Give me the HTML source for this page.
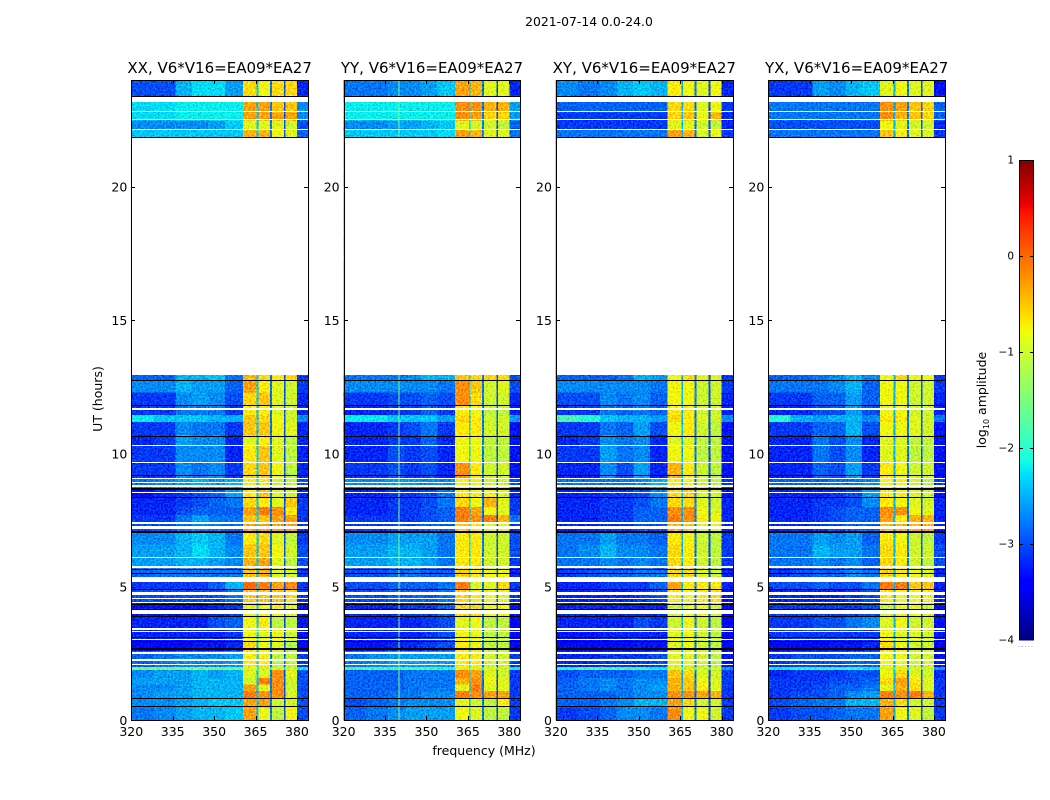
<!DOCTYPE html>
<html>
<head>
<meta charset="utf-8">
<title>2021-07-14 0.0-24.0</title>
<style>
html,body{margin:0;padding:0;background:#fff;width:1050px;height:800px;overflow:hidden}
svg{display:block;font-family:"DejaVu Sans","Liberation Sans",sans-serif;fill:#000}
</style>
</head>
<body>
<svg id="fig" xmlns="http://www.w3.org/2000/svg" width="1050" height="800" viewBox="0 0 1050 800">
<defs>
<filter id="speckle" x="0" y="0" width="100%" height="100%" color-interpolation-filters="sRGB">
<feTurbulence type="fractalNoise" baseFrequency="0.6" numOctaves="1" seed="7" result="n"/>
<feColorMatrix in="n" type="matrix" values="0 0 0 0 0.5  0 1 0 0 0  0 1 0 0 0  0 0 0 0 1" result="g"/>
<feComposite in="SourceGraphic" in2="g" operator="arithmetic" k1="0" k2="1" k3="0.9" k4="-0.45"/>
</filter>
</defs>
<text x="589" y="26" font-size="12.4" text-anchor="middle">2021-07-14 0.0-24.0</text>
<text x="484" y="755" font-size="12.5" text-anchor="middle">frequency (MHz)</text>
<text transform="translate(102 399) rotate(-90)" font-size="12.5" text-anchor="middle">UT (hours)</text>
<g id="panels"></g>
<g id="colorbar"></g>
<text transform="translate(986 400) rotate(-90)" font-size="12.5" text-anchor="middle">log<tspan font-size="8" dy="3">10</tspan><tspan dy="-3"> amplitude</tspan></text>
<text x="1026" y="647" font-size="7" fill="#777" text-anchor="middle" letter-spacing="1">.....</text>
</svg>
<script>
// ---- chart data (levels are log10 amplitude x 10) ----
const panelNames = ["XX, V6*V16=EA09*EA27","YY, V6*V16=EA09*EA27","XY, V6*V16=EA09*EA27","YX, V6*V16=EA09*EA27"];
const freqEdges = [320,328,336,342,348,354,360.4,365.4,366,370.2,370.9,375.3,375.9,380,384];
const rowEdges = [0,.48,.8,1.1,1.35,1.6,1.9,2,2.6,3,3.45,3.9,4.4,4.9,5.2,5.7,6.1,6.6,7.05,7.4,7.7,8,8.35,8.7,9.1,9.7,10.3,10.7,11.2,11.45,11.8,12.3,12.75,12.94,21.83,22.15,22.5,22.8,23.2,24];
const xxLevels = [
[-28,-27,-26,-25,-25,-24,-3,-24,-8,-28,-11,-30,-8,-30],
[-27,-27,-26,-25,-24,-24,-3,-24,-3,-28,-10,-30,-10,-30],
[-27,-26,-26,-25,-25,-25,-1,-24,-2,-28,-2,-30,-9,-30],
[-27,-27,-26,-25,-25,-25,-3,-24,-9,-28,-2,-30,-10,-30],
[-26,-26,-26,-25,-25,-25,-10,-24,-1,-28,-2,-30,-10,-30],
[-27,-26,-26,-25,-26,-25,-9,-24,-9,-28,-2,-30,-9,-30],
[-15,-15,-15,-15,-15,-16,-10,-20,-10,-20,-10,-22,-10,-22],
[-29,-28,-27,-27,-27,-26,-7,-24,-7,-28,-11,-30,-11,-31],
[-34,-34,-34,-33,-33,-32,-6,-24,-8,-28,-9,-30,-12,-34],
[-32,-32,-32,-32,-32,-31,-8,-24,-9,-28,-8,-30,-10,-33],
[-32,-32,-32,-32,-30,-29,-8,-24,-7,-28,-11,-30,-11,-33],
[-33,-33,-33,-33,-32,-31,-9,-24,-8,-28,-7,-30,-9,-33],
[-30,-30,-30,-30,-30,-28,-5,-24,-5,-28,-5,-30,-6,-31],
[-31,-31,-31,-31,-29,-25,0,-24,-1,-28,-3,-30,-2,-31],
[-29,-28,-28,-28,-28,-28,-5,-24,-4,-28,-9,-30,-10,-31],
[-26,-26,-25,-25,-26,-27,-4,-24,-3,-28,-9,-30,-11,-30],
[-26,-26,-25,-23,-25,-27,-5,-24,-5,-28,-8,-30,-10,-30],
[-27,-27,-25,-24,-25,-28,-7,-24,-6,-28,-9,-30,-11,-31],
[-30,-30,-28,-27,-28,-29,-3,-24,-3,-28,-3,-30,-3,-31],
[-31,-31,-28,-26,-28,-28,-5,-24,-5,-28,-3,-30,-3,-31],
[-32,-32,-30,-29,-29,-29,-3,-24,-1,-28,-2,-30,-7,-31],
[-32,-32,-31,-30,-29,-28,-6,-24,-7,-28,-9,-30,-5,-31],
[-33,-32,-31,-30,-29,-26,-7,-24,-5,-28,-9,-30,-10,-32],
[-28,-27,-26,-25,-26,-25,-8,-24,-7,-28,-10,-30,-11,-30],
[-31,-31,-27,-28,-27,-31,-6,-24,-5,-28,-8,-30,-11,-32],
[-31,-31,-27,-27,-27,-32,-7,-24,-5,-28,-9,-30,-11,-32],
[-32,-31,-26,-27,-27,-32,-9,-24,-7,-28,-9,-30,-11,-32],
[-31,-31,-27,-28,-28,-31,-5,-24,-5,-28,-8,-30,-9,-32],
[-22,-24,-24,-24,-25,-25,-5,-24,-6,-28,-8,-30,-10,-27],
[-31,-31,-28,-28,-28,-31,-7,-24,-7,-28,-9,-30,-10,-32],
[-31,-31,-27,-26,-27,-30,-6,-24,-5,-28,-9,-30,-10,-32],
[-27,-27,-25,-26,-26,-29,-3,-24,-7,-28,-9,-30,-10,-31],
[-29,-29,-25,-25,-24,-28,-4,-24,-6,-28,-7,-30,-6,-31],
[],
[-24,-24,-24,-24,-24,-24,-4,-24,-4,-28,-8,-30,-9,-29],
[-27,-27,-27,-27,-26,-24,-9,-24,-9,-28,-9,-30,-10,-30],
[-23,-23,-22,-22,-22,-22,-3,-24,-3,-28,-3,-30,-3,-27],
[-23,-23,-22,-22,-22,-22,-3,-24,-3,-28,-5,-30,-5,-27],
[-30,-30,-25,-23,-23,-26,-6,-24,-8,-28,-6,-30,-6,-32]
];
const yyLevels = [
[-29,-28,-27,-26,-26,-26,-8,-23,-9,-28,-11,-30,-11,-31],
[-30,-29,-28,-27,-27,-27,-9,-24,-10,-28,-11,-30,-7,-31],
[-29,-29,-28,-28,-27,-27,-1,-23,-2,-28,-3,-30,-3,-31],
[-29,-29,-29,-28,-28,-28,-9,-23,-1,-28,-9,-30,-9,-31],
[-29,-29,-29,-28,-28,-28,-4,-23,-2,-28,-8,-30,-9,-31],
[-29,-29,-29,-28,-28,-28,-2,-23,-3,-28,-9,-30,-10,-31],
[-18,-18,-18,-18,-18,-20,-10,-20,-10,-20,-10,-22,-10,-22],
[-28,-27,-26,-26,-26,-26,-7,-23,-7,-28,-10,-30,-10,-31],
[-33,-33,-32,-32,-31,-30,-7,-23,-8,-28,-11,-30,-11,-34],
[-32,-32,-32,-32,-31,-30,-8,-23,-8,-28,-11,-30,-11,-34],
[-32,-32,-32,-32,-31,-30,-9,-23,-8,-28,-11,-30,-11,-34],
[-32,-32,-32,-31,-31,-29,-6,-23,-6,-28,-8,-30,-8,-33],
[-30,-30,-29,-29,-29,-28,-6,-23,-7,-28,-8,-30,-9,-31],
[-30,-30,-29,-29,-29,-28,-1,-23,-9,-28,-9,-30,-6,-31],
[-30,-30,-29,-28,-29,-29,-6,-23,-7,-28,-8,-30,-8,-32],
[-26,-26,-25,-25,-26,-28,-7,-23,-7,-28,-10,-30,-10,-31],
[-26,-26,-25,-25,-26,-28,-7,-23,-7,-28,-10,-30,-10,-30],
[-27,-27,-26,-26,-26,-28,-7,-23,-7,-28,-10,-30,-10,-30],
[-31,-31,-30,-30,-29,-29,-5,-24,-7,-28,-9,-30,-9,-31],
[-31,-31,-31,-31,-30,-29,-1,-23,-2,-28,-1,-30,-4,-28],
[-32,-32,-31,-31,-30,-29,-1,-23,-3,-28,-8,-30,-9,-31],
[-32,-32,-31,-31,-30,-28,-6,-23,-8,-28,-4,-30,-9,-31],
[-32,-32,-31,-31,-30,-28,-7,-23,-7,-28,-8,-30,-9,-32],
[-27,-27,-26,-26,-27,-27,-8,-23,-8,-28,-10,-30,-10,-30],
[-31,-31,-30,-31,-30,-32,-2,-23,-7,-28,-10,-30,-10,-33],
[-32,-32,-30,-31,-30,-32,-8,-23,-8,-28,-11,-30,-11,-33],
[-32,-32,-31,-31,-29,-32,-8,-23,-8,-28,-11,-30,-11,-33],
[-32,-32,-31,-30,-28,-31,-7,-23,-7,-28,-10,-30,-10,-33],
[-22,-22,-24,-24,-24,-26,-6,-23,-7,-28,-10,-30,-10,-26],
[-32,-32,-31,-31,-29,-31,-7,-23,-8,-28,-11,-30,-11,-32],
[-31,-31,-30,-30,-29,-30,-2,-23,-6,-28,-10,-30,-10,-32],
[-27,-27,-27,-27,-27,-28,-2,-23,-5,-28,-10,-30,-9,-30],
[-28,-28,-28,-27,-25,-25,-5,-23,-6,-28,-6,-30,-6,-30],
[],
[-24,-24,-24,-24,-24,-23,-3,-23,-4,-28,-9,-30,-9,-28],
[-27,-27,-26,-26,-25,-24,-9,-23,-10,-28,-10,-30,-11,-29],
[-22,-22,-22,-22,-22,-22,-2,-23,-3,-28,-6,-30,-6,-26],
[-22,-22,-22,-22,-22,-22,-2,-23,-2,-28,-4,-30,-4,-26],
[-28,-28,-27,-27,-26,-24,-3,-23,-4,-28,-9,-30,-9,-32]
];
const xyLevels = [
[-31,-30,-29,-27,-27,-28,-2,-25,-8,-28,-8,-30,-10,-31],
[-29,-29,-28,-27,-25,-25,-3,-25,-6,-28,-10,-30,-10,-31],
[-29,-29,-29,-28,-27,-27,-2,-25,-2,-28,-3,-30,-4,-31],
[-29,-28,-27,-28,-27,-26,-4,-25,-5,-28,-7,-30,-9,-31],
[-29,-28,-27,-28,-27,-27,-4,-25,-5,-28,-8,-30,-9,-31],
[-30,-29,-29,-29,-28,-28,-5,-25,-6,-28,-9,-30,-10,-31],
[-20,-18,-18,-18,-18,-22,-10,-20,-10,-20,-10,-22,-10,-26],
[-32,-32,-31,-31,-31,-30,-9,-25,-9,-28,-10,-30,-11,-33],
[-35,-34,-34,-34,-33,-33,-9,-25,-8,-28,-10,-30,-11,-35],
[-33,-33,-32,-32,-32,-32,-9,-25,-8,-28,-10,-30,-11,-34],
[-32,-32,-32,-32,-30,-31,-10,-25,-8,-28,-10,-30,-11,-34],
[-32,-32,-32,-32,-32,-32,-10,-25,-8,-28,-8,-30,-10,-34],
[-32,-32,-32,-32,-31,-30,-7,-25,-8,-28,-7,-30,-6,-33],
[-32,-32,-31,-31,-31,-29,-3,-25,-7,-28,-7,-30,-7,-32],
[-31,-30,-29,-29,-28,-28,-6,-25,-6,-28,-9,-30,-10,-32],
[-28,-28,-27,-28,-27,-28,-6,-25,-7,-28,-10,-30,-11,-31],
[-28,-27,-25,-27,-27,-28,-6,-25,-7,-28,-10,-30,-11,-31],
[-28,-28,-26,-28,-28,-29,-7,-25,-8,-28,-10,-30,-11,-31],
[-32,-32,-31,-31,-30,-30,-4,-25,-5,-28,-9,-30,-9,-32],
[-32,-32,-31,-31,-29,-29,-1,-25,-2,-28,-7,-30,-8,-32],
[-32,-32,-31,-31,-29,-29,-2,-25,-2,-28,-8,-30,-9,-32],
[-32,-32,-31,-31,-30,-28,-6,-25,-6,-28,-9,-30,-10,-32],
[-32,-32,-31,-31,-30,-27,-6,-25,-6,-28,-9,-30,-10,-33],
[-28,-28,-28,-28,-27,-25,-8,-25,-8,-28,-10,-30,-11,-31],
[-32,-32,-27,-30,-26,-32,-4,-25,-7,-28,-10,-30,-11,-33],
[-31,-31,-26,-28,-27,-32,-8,-25,-8,-28,-11,-30,-11,-33],
[-32,-31,-27,-28,-27,-32,-9,-25,-9,-28,-11,-30,-11,-33],
[-31,-31,-28,-29,-26,-30,-8,-25,-7,-28,-10,-30,-11,-33],
[-18,-20,-24,-25,-25,-26,-6,-25,-7,-28,-9,-30,-10,-27],
[-31,-31,-28,-29,-28,-29,-7,-25,-7,-28,-10,-30,-10,-32],
[-30,-30,-27,-28,-27,-29,-8,-25,-8,-28,-10,-30,-10,-32],
[-27,-27,-27,-27,-27,-28,-8,-25,-8,-28,-10,-30,-10,-31],
[-29,-29,-29,-28,-25,-26,-8,-25,-6,-28,-9,-30,-9,-31],
[],
[-28,-28,-28,-28,-28,-28,-3,-25,-4,-28,-9,-30,-8,-31],
[-31,-31,-31,-31,-31,-31,-9,-25,-9,-28,-10,-30,-11,-32],
[-31,-31,-31,-31,-31,-31,-6,-25,-5,-28,-8,-30,-4,-32],
[-29,-29,-29,-29,-29,-29,-6,-25,-6,-28,-9,-30,-8,-31],
[-27,-28,-27,-25,-24,-25,-7,-25,-8,-28,-9,-30,-8,-32]
];
const yxLevels = [
[-31,-30,-30,-29,-28,-28,-3,-25,-8,-28,-9,-30,-11,-31],
[-30,-29,-28,-28,-25,-25,-4,-25,-6,-28,-10,-30,-10,-31],
[-31,-30,-30,-29,-27,-26,-1,-25,-2,-28,-1,-30,-4,-31],
[-31,-31,-30,-29,-29,-28,-9,-25,-4,-28,-6,-30,-9,-31],
[-31,-31,-31,-30,-30,-29,-6,-25,-3,-28,-7,-30,-9,-31],
[-32,-31,-31,-31,-30,-30,-8,-25,-6,-28,-9,-30,-10,-32],
[-22,-20,-20,-20,-20,-22,-10,-20,-10,-20,-10,-22,-10,-26],
[-31,-30,-30,-30,-29,-29,-8,-25,-8,-28,-10,-30,-10,-33],
[-34,-34,-34,-33,-33,-32,-6,-25,-8,-28,-10,-30,-10,-35],
[-31,-31,-31,-31,-31,-31,-8,-25,-9,-28,-9,-30,-10,-33],
[-31,-31,-30,-30,-28,-27,-9,-25,-8,-28,-10,-30,-10,-33],
[-31,-31,-31,-31,-31,-30,-10,-25,-8,-28,-8,-30,-10,-33],
[-32,-32,-32,-32,-31,-30,-7,-25,-8,-28,-8,-30,-7,-32],
[-30,-30,-29,-30,-30,-28,-1,-25,-1,-28,-5,-30,-5,-32],
[-31,-30,-29,-29,-27,-28,-6,-25,-7,-28,-8,-30,-9,-32],
[-28,-28,-27,-28,-27,-29,-6,-25,-7,-28,-10,-30,-11,-30],
[-28,-28,-25,-26,-26,-28,-6,-25,-7,-28,-10,-30,-10,-30],
[-28,-28,-26,-27,-26,-29,-7,-25,-8,-28,-10,-30,-11,-31],
[-32,-32,-31,-30,-29,-29,-4,-25,-4,-28,-4,-30,-4,-32],
[-32,-32,-31,-30,-29,-29,-3,-25,-7,-28,-4,-30,-4,-32],
[-32,-32,-31,-30,-29,-29,-2,-25,-2,-28,-8,-30,-9,-32],
[-32,-32,-31,-31,-30,-27,-7,-25,-8,-28,-9,-30,-10,-32],
[-32,-32,-32,-31,-30,-26,-7,-25,-7,-28,-9,-30,-10,-33],
[-29,-29,-29,-28,-28,-27,-8,-25,-8,-28,-10,-30,-11,-31],
[-32,-32,-29,-30,-26,-31,-7,-25,-8,-28,-10,-30,-10,-33],
[-32,-32,-28,-30,-27,-32,-9,-25,-9,-28,-11,-30,-11,-33],
[-32,-32,-28,-30,-27,-32,-9,-25,-9,-28,-11,-30,-11,-33],
[-31,-31,-29,-29,-25,-30,-8,-25,-8,-28,-9,-30,-10,-33],
[-20,-25,-26,-25,-25,-27,-7,-25,-7,-28,-9,-30,-10,-28],
[-32,-32,-30,-30,-26,-30,-8,-25,-8,-28,-10,-30,-10,-32],
[-31,-31,-29,-29,-26,-29,-8,-25,-8,-28,-10,-30,-10,-32],
[-28,-28,-28,-27,-25,-29,-8,-25,-8,-28,-10,-30,-10,-31],
[-29,-29,-28,-27,-25,-27,-8,-25,-6,-28,-8,-30,-8,-31],
[],
[-28,-28,-28,-28,-28,-28,-5,-25,-7,-28,-9,-30,-9,-31],
[-30,-30,-30,-30,-30,-30,-8,-25,-9,-28,-10,-30,-10,-32],
[-28,-28,-28,-28,-28,-28,-2,-25,-4,-28,-5,-30,-6,-29],
[-28,-28,-28,-28,-28,-28,-2,-25,-3,-28,-5,-30,-6,-29],
[-31,-31,-26,-27,-25,-24,-9,-25,-8,-28,-9,-30,-9,-33]
];
const panelLevels = [xxLevels,yyLevels,xyLevels,yxLevels];
const whiteBands = [[23.16,23.36],[22.8,22.84],[22.49,22.54],[22.13,22.16],[12.94,21.83],[11.64,11.7],[10.28,10.31],[9.64,9.68],[9.03,9.08],[8.88,8.91],[8.73,8.8],[8.51,8.56],[7.36,7.41],[7.15,7.28],[6.08,6.12],[5.71,5.76],[5.18,5.37],[4.69,4.81],[4.53,4.56],[4.38,4.43],[3.98,4.13],[3.39,3.45],[3.3,3.34],[3,3.04],[2.48,2.55],[2.21,2.29],[2.05,2.09]];
const blackBands = [[23.36,23.4],[21.83,21.88],[12.71,12.75],[11.76,11.8],[10.61,10.65],[9.14,9.18],[8.63,8.69],[8.33,8.36],[7.01,7.07],[5.64,5.67],[5.48,5.51],[4.86,4.9],[4.31,4.35],[4.13,4.16],[3.87,3.91],[3.06,3.1],[2.91,2.95],[2.63,2.69],[.79,.82],[.48,.51]];
const rfiLineFreq = [null,339.9,null,null];
const xTicks = [320,335,350,365,380];
const yTicks = [0,5,10,15,20];
const cbarTicks = [1,0,-1,-2,-3,-4];
const cbarSteps = 240;

// ---- helpers ----
const NS = "http://www.w3.org/2000/svg";
const layout = {top:80,height:640,width:176.7,step:212.33,left:131.3,fMin:320,fMax:384,hMax:24,vMin:-4,vMax:1,cbX:1019,cbW:15,cbTop:160,cbH:480};
function make(tag, attrs, parent){
  const el = document.createElementNS(NS, tag);
  for (const k in attrs) el.setAttribute(k, attrs[k]);
  parent.appendChild(el);
  return el;
}
function xScale(i,f){ return layout.left + layout.step*i + (f-layout.fMin)/(layout.fMax-layout.fMin)*layout.width; }
function yScale(h){ return layout.top + layout.height*(1-h/layout.hMax); }
function cbScale(v){ return layout.cbTop + layout.cbH*(layout.vMax-v)/(layout.vMax-layout.vMin); }
function seg(pts,t){
  for (let i=1;i<pts.length;i++){
    if (t<=pts[i][0]){
      const a=pts[i-1], b=pts[i];
      return a[1]+(b[1]-a[1])*(t-a[0])/(b[0]-a[0]);
    }
  }
  return pts[pts.length-1][1];
}
const jetR=[[0,0],[.35,0],[.66,1],[.89,1],[1,.5]];
const jetG=[[0,0],[.125,0],[.375,1],[.64,1],[.91,0],[1,0]];
const jetB=[[0,.5],[.11,1],[.34,1],[.65,0],[1,0]];
function jet(v){
  const t=Math.max(0,Math.min(1,(v-layout.vMin)/(layout.vMax-layout.vMin)));
  return "rgb("+[jetR,jetG,jetB].map(p=>Math.round(seg(p,t)*255)).join(",")+")";
}

// ---- panels ----
const panelsRoot = document.getElementById("panels");
panelLevels.forEach(function(levels,i){
  const x0 = xScale(i,layout.fMin), x1 = x0+layout.width;
  const fx0 = Math.round(x0), fx1 = Math.round(x1);
  const g = make("g",{},panelsRoot);
  
  
  const cells = make("g",{filter:"url(#speckle)","shape-rendering":"crispEdges"},g);
  
  
  levels.forEach(function(row,r){
    row.forEach(function(val,c){
      const xa=xScale(i,freqEdges[c]), xb=xScale(i,freqEdges[c+1]);
      const ya=yScale(rowEdges[r+1]), yb=yScale(rowEdges[r]);
      const cell = make("rect",{x:xa.toFixed(2),y:ya.toFixed(2),width:(xb-xa+.5).toFixed(2),height:(yb-ya+.5).toFixed(2),fill:jet(val/10)},cells);
      
      
    });
  });
  if (rfiLineFreq[i]!==null){
    [[0,12.94],[21.83,24]].forEach(function(span){
      const rfi = make("rect",{x:xScale(i,rfiLineFreq[i]).toFixed(2),y:yScale(span[1]),width:1,height:yScale(span[0])-yScale(span[1]),fill:jet(-1.5),"shape-rendering":"crispEdges"},g);
      
      
    });
  }
  whiteBands.forEach(function(b){
    const ya=Math.round(yScale(b[1])), yb=Math.round(yScale(b[0]));
    const band = make("rect",{x:fx0,y:ya,width:fx1-fx0,height:Math.max(1,yb-ya),fill:"#fff","shape-rendering":"crispEdges"},g);
    
    
  });
  blackBands.forEach(function(b){
    const ya=Math.round(yScale(b[1])), yb=Math.round(yScale(b[0]));
    const band = make("rect",{x:fx0,y:ya,width:fx1-fx0,height:Math.max(1,yb-ya),fill:"#000","shape-rendering":"crispEdges"},g);
    
    
  });
  const frame = make("rect",{x:fx0+.5,y:layout.top+.5,width:fx1-fx0,height:layout.height,fill:"none",stroke:"#000","stroke-width":1},g);
  
  
  const titleEl = make("text",{x:x0+layout.width/2,y:73,"font-size":"15","text-anchor":"middle"},g);
  titleEl.textContent = panelNames[i];
  
  
  xTicks.forEach(function(t){
    const px = Math.round(xScale(i,t))+.5;
    const tick = make("path",{d:"M"+px+" "+(layout.top+layout.height)+"v-4M"+px+" "+layout.top+"v4",stroke:"#000",fill:"none"},g);
    
    
    const lab = make("text",{x:xScale(i,t),y:736,"font-size":"12.5","text-anchor":"middle"},g);
    lab.textContent = t;
    
    
  });
  yTicks.forEach(function(t){
    const py = Math.round(yScale(t))+.5;
    const tick = make("path",{d:"M"+fx0+" "+py+"h4M"+fx1+" "+py+"h-4",stroke:"#000",fill:"none"},g);
    
    
    const lab = make("text",{x:x0-4,y:yScale(t)+5,"font-size":"12.5","text-anchor":"end"},g);
    lab.textContent = t;
    
    
  });
});

// ---- colorbar ----
const cb = document.getElementById("colorbar");
const stepH = layout.cbH/cbarSteps;
for (let s=0;s<cbarSteps;s++){
  const v = layout.vMax-(s+.5)*(layout.vMax-layout.vMin)/cbarSteps;
  const r = make("rect",{x:layout.cbX,y:(layout.cbTop+s*stepH).toFixed(2),width:layout.cbW,height:(stepH+.3).toFixed(2),fill:jet(v),"shape-rendering":"crispEdges"},cb);
  
  
}
const cbFrame = make("rect",{x:layout.cbX+.5,y:layout.cbTop+.5,width:layout.cbW-1,height:layout.cbH-1,fill:"none",stroke:"#000","stroke-width":1},cb);


cbarTicks.forEach(function(t){
  const py = Math.round(cbScale(t))+(t===layout.vMin?-.5:.5);
  const tick = make("path",{d:"M"+layout.cbX+" "+py+"h4M"+(layout.cbX+layout.cbW)+" "+py+"h-4",stroke:"#000",fill:"none"},cb);
  
  
  const lab = make("text",{x:layout.cbX-5,y:cbScale(t)+3.5,"font-size":"10.5","text-anchor":"end"},cb);
  lab.textContent = t<0 ? "\u2212"+(-t) : String(t);
  
  
});
</script>
</body>
</html>
